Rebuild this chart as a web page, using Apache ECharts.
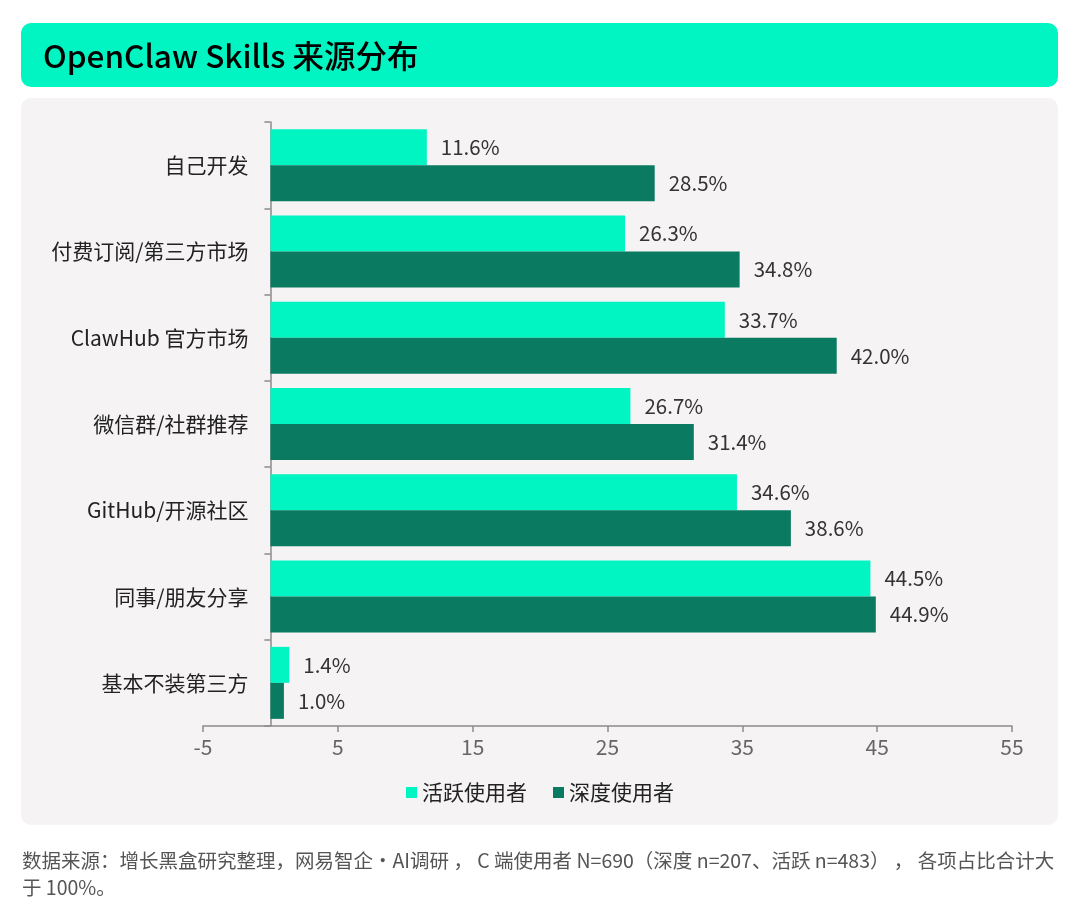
<!DOCTYPE html>
<html><head><meta charset="utf-8">
<script src="https://cdn.jsdelivr.net/npm/echarts@6/dist/echarts.min.js"></script>
<style>html,body{margin:0;padding:0;background:#fff}#c{width:1080px;height:920px}</style>
</head><body><div id="c"></div>
<script>
const categories = ['自己开发','付费订阅/第三方市场','ClawHub 官方市场','微信群/社群推荐','GitHub/开源社区','同事/朋友分享','基本不装第三方'];
const seriesNames = ['活跃使用者','深度使用者'];
const activeValues = [11.6, 26.3, 33.7, 26.7, 34.6, 44.5, 1.4];
const deepValues = [28.5, 34.8, 42.0, 31.4, 38.6, 44.9, 1.0];
const xTicks = {min: -5, max: 55, interval: 10};
const titleText = 'OpenClaw Skills 来源分布';
const noteText = '数据来源：增长黑盒研究整理，网易智企·AI调研 ， C 端使用者 N=690（深度 n=207、活跃 n=483） ， 各项占比合计大\n于 100%。';

const LIGHT = '#00F5C3', DARK = '#0A7A61';
const FONT = '"Noto Sans CJK SC","Noto Sans",sans-serif';
const chart = echarts.init(document.getElementById('c'), null, {renderer: 'canvas'});
const lbl = {show: true, position: 'right', distance: 14, color: '#333', fontSize: 20.5, fontFamily: FONT,
  formatter: p => p.value.toFixed(1) + '%'};
const GRID_L = 203, GRID_R = 68;
const zeroOffset = (1080 - GRID_L - GRID_R) * (0 - xTicks.min) / (xTicks.max - xTicks.min);
chart.setOption({
  animation: false,
  textStyle: {fontFamily: FONT},
  graphic: [
    {type: 'rect', shape: {x: 21, y: 23, width: 1037, height: 64, r: 10}, style: {fill: LIGHT}, z: -10},
    {type: 'rect', shape: {x: 21, y: 98, width: 1037, height: 727, r: 10}, style: {fill: '#F5F3F4'}, z: -10},
    {type: 'text', x: 43, y: 56, style: {text: titleText, fill: '#000', fontSize: 31.5, fontWeight: 500, fontFamily: FONT, verticalAlign: 'middle'}},
    {type: 'text', x: 22, y: 847, style: {text: noteText, fill: '#555', fontSize: 19.5, lineHeight: 27, fontFamily: FONT}}
  ],
  legend: {
    data: seriesNames, left: 'center', top: 777, itemWidth: 11, itemHeight: 11, itemGap: 26,
    icon: 'rect', textStyle: {fontSize: 21, color: '#222', fontFamily: FONT}
  },
  grid: {left: GRID_L, right: GRID_R, top: 122, bottom: 194, containLabel: false},
  xAxis: {
    type: 'value', min: xTicks.min, max: xTicks.max, interval: xTicks.interval,
    splitLine: {show: false},
    axisLine: {show: true, lineStyle: {color: '#8C8C8C', width: 1.5}},
    axisTick: {show: true, length: 6, lineStyle: {color: '#8C8C8C', width: 1.5}},
    axisLabel: {color: '#666', fontSize: 21, margin: 11, fontFamily: FONT}
  },
  yAxis: {
    type: 'category', data: categories, inverse: true, offset: -zeroOffset,
    axisLine: {show: true, onZero: false, lineStyle: {color: '#8C8C8C', width: 1.5}},
    axisTick: {show: true, length: 6, lineStyle: {color: '#8C8C8C', width: 1.5}},
    axisLabel: {color: '#222', fontSize: 21, margin: 22, fontFamily: FONT}
  },
  series: [
    {name: seriesNames[0], type: 'bar', data: activeValues, barWidth: 36, barGap: '0%', itemStyle: {color: LIGHT}, label: lbl},
    {name: seriesNames[1], type: 'bar', data: deepValues, barWidth: 36, barGap: '0%', itemStyle: {color: DARK}, label: lbl}
  ]
});
</script></body></html>
